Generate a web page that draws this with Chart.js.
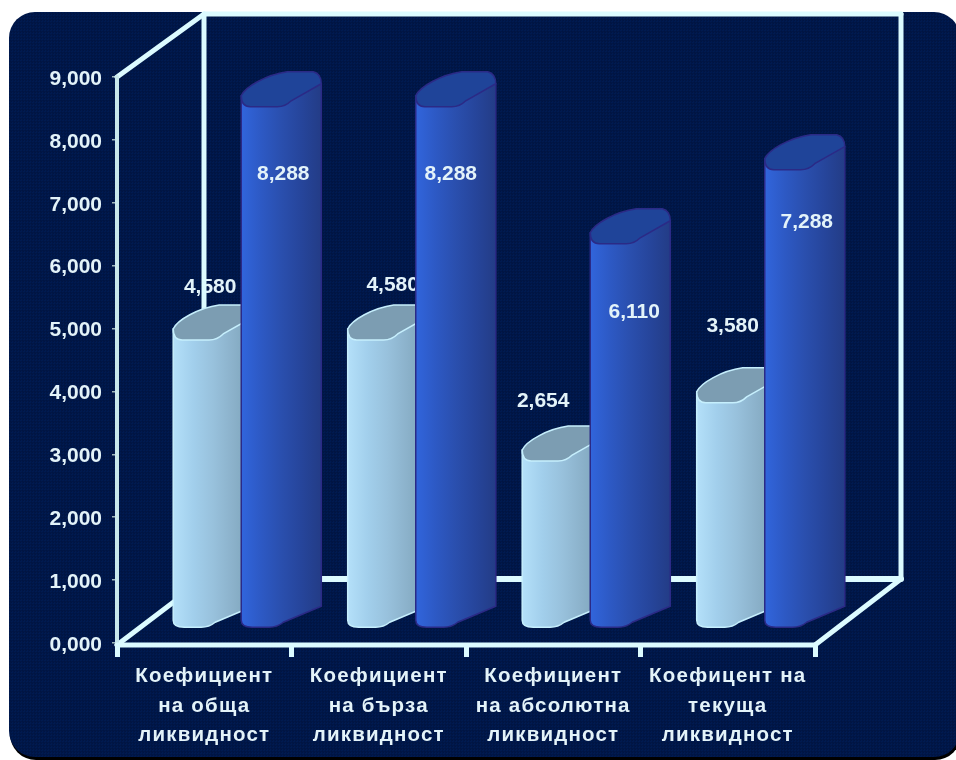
<!DOCTYPE html>
<html>
<head>
<meta charset="utf-8">
<style>
  html, body { margin: 0; padding: 0; background: #fff; overflow: hidden; }
  #wrap { position: relative; width: 956px; height: 760px; overflow: hidden; }
  #panel {
    position: absolute; left: 9px; top: 12px; width: 951px; height: 745px;
    border-radius: 26px;
    background-color: #001a50;
    background-image: radial-gradient(circle at 1.5px 1.5px, #001442 0.9px, transparent 1.3px),
                      radial-gradient(circle at 3px 3px, #001442 0.9px, transparent 1.3px);
    background-size: 3px 3px;
    box-shadow: 1px 3px 0 #000;
  }
  canvas { position: absolute; left: 0; top: 0; }
</style>
</head>
<body>
<div id="wrap">
  <div id="panel"></div>
  <canvas id="liquidityChart" width="956" height="760"></canvas>
</div>
<script src="https://cdn.jsdelivr.net/npm/chart.js@4"></script>
<script>
// ----- DATA -----
const categories = [
  ['Коефициент', 'на обща', 'ликвидност'],
  ['Коефициент', 'на бърза', 'ликвидност'],
  ['Коефициент', 'на абсолютна', 'ликвидност'],
  ['Коефицент на', 'текуща', 'ликвидност']
];
const lightValues = [4.58, 4.58, 2.654, 3.58];
const blueValues = [8.288, 8.288, 6.11, 7.288];

// label nudges from the top-left of each bar
const lightLabelNudge = [[37, -55], [45, -57], [21, -62], [36, -79]];
const blueLabelNudge = [[42, 65], [35, 65], [44, 66], [42, 51]];

const LINE = '#dcfbff';
const TEXT = '#e3f3f9';
const fmt = v => v.toFixed(3).replace('.', ',');

// ----- 3D DRAWING -----
const BAR_DX = 37, BAR_DY = -15, BAR_EXTRA = 12;

function bodyGradient(ctx, x0, x1, stops) {
  const g = ctx.createLinearGradient(x0, 0, x1, 0);
  stops.forEach((c, i) => g.addColorStop(i / (stops.length - 1), c));
  return g;
}

function capPath(ctx, L, T) {
  ctx.beginPath();
  ctx.moveTo(L, T - 11);
  ctx.bezierCurveTo(L + 4, T - 20, L + 25, T - 32, L + 46, T - 35);
  ctx.lineTo(L + 72, T - 35);
  ctx.quadraticCurveTo(L + 80, T - 33, L + 80, T - 23);
  ctx.lineTo(L + 50, T - 6);
  ctx.quadraticCurveTo(L + 44, T, L + 36, T);
  ctx.lineTo(L + 9, T);
  ctx.quadraticCurveTo(L, T, L, T - 11);
  ctx.closePath();
}

function drawCylinder(ctx, el, look) {
  const L = el.x - el.width / 2 + BAR_DX;
  const T = el.y + BAR_DY;
  const B = el.base + BAR_DY;
  const R = L + el.width + BAR_EXTRA;
  ctx.save();
  ctx.beginPath();
  ctx.moveTo(L, T - 11);
  ctx.lineTo(R, T - 23);
  ctx.lineTo(R, B - 21);
  ctx.lineTo(L + 42, B - 5);
  ctx.quadraticCurveTo(L + 36, B, L + 28, B);
  ctx.lineTo(L + 11, B);
  ctx.quadraticCurveTo(L, B, L, B - 7);
  ctx.closePath();
  ctx.fillStyle = bodyGradient(ctx, L, R, look.body);
  ctx.fill();
  ctx.strokeStyle = look.edge;
  ctx.lineWidth = 1.5;
  ctx.stroke();
  capPath(ctx, L, T);
  ctx.fillStyle = look.cap;
  ctx.fill();
  ctx.strokeStyle = look.edge;
  ctx.lineWidth = 1.5;
  ctx.stroke();
  ctx.restore();
}

function drawValue(ctx, text, x, y) {
  ctx.save();
  ctx.font = 'bold 21px "Liberation Sans", Arial, sans-serif';
  ctx.fillStyle = TEXT;
  ctx.textAlign = 'center';
  ctx.textBaseline = 'middle';
  ctx.fillText(text, x, y + 2);
  ctx.restore();
}

function drawFrame(ctx, area) {
  const left = area.left, right = area.right, bottom = area.bottom + 2, top = area.top;
  const backL = left + 87, backR = right + 86, backTop = top - 63, backFloor = bottom - 66;
  const seg = (x0, y0, x1, y1, w) => {
    ctx.lineWidth = w;
    ctx.beginPath();
    ctx.moveTo(x0, y0);
    ctx.lineTo(x1, y1);
    ctx.stroke();
  };
  ctx.save();
  ctx.strokeStyle = LINE;
  ctx.lineCap = 'round';
  seg(backL, backTop, backL, backFloor, 5);
  seg(backR, backTop, backR, backFloor, 5);
  seg(backL, backTop, backR, backTop, 5);
  seg(backL, backFloor, backR, backFloor, 6);
  seg(left, top, backL, backTop, 5);
  seg(left, bottom, backL, backFloor, 5);
  seg(right, bottom, backR, backFloor, 5);
  ctx.strokeStyle = '#c9e8ec';
  seg(left, top, left, bottom, 4);
  ctx.strokeStyle = LINE;
  seg(left, bottom, right, bottom, 5);
  ctx.restore();
}

// wraps a scale's label drawing so one axis can have its own canvas settings
function wrapLabels(chart, scale, setup) {
  if (scale._wrapped) return;
  const orig = scale.drawLabels;
  scale.drawLabels = function (area) {
    chart.ctx.save();
    setup(chart.ctx);
    orig.call(this, area);
    chart.ctx.restore();
  };
  scale._wrapped = true;
}

const liquidity3d = {
  id: 'liquidity3d',
  beforeDraw(chart) {
    wrapLabels(chart, chart.scales.x, ctx => { ctx.letterSpacing = '1.2px'; });
    wrapLabels(chart, chart.scales.y, ctx => { ctx.translate(0, 2); });
  },
  afterDatasetsDraw(chart) {
    const ctx = chart.ctx;
    const lightBars = chart.getDatasetMeta(0).data;
    const blueBars = chart.getDatasetMeta(1).data;

    lightBars.forEach((el, i) => {
      const L = el.x - el.width / 2 + BAR_DX;
      const T = el.y + BAR_DY;
      drawValue(ctx, fmt(lightValues[i]), L + lightLabelNudge[i][0], T + lightLabelNudge[i][1]);
    });

    drawFrame(ctx, chart.chartArea);

    lightBars.forEach(el => drawCylinder(ctx, el, {
      body: ['#b4e0f9', '#a2cfec', '#98c1dc', '#8bb1ca', '#7ba3b8'],
      cap: '#7c9db2',
      edge: '#c6effd'
    }));
    blueBars.forEach(el => drawCylinder(ctx, el, {
      body: ['#3165dc', '#2d59c4', '#2a4fae', '#26459b', '#233c86'],
      cap: '#1f4499',
      edge: '#2b2a86'
    }));

    blueBars.forEach((el, i) => {
      const L = el.x - el.width / 2 + BAR_DX;
      const T = el.y + BAR_DY;
      drawValue(ctx, fmt(blueValues[i]), L + blueLabelNudge[i][0], T + blueLabelNudge[i][1]);
    });
  }
};

// ----- CHART -----
new Chart(document.getElementById('liquidityChart'), {
  type: 'bar',
  data: {
    labels: categories,
    datasets: [
      { data: lightValues, backgroundColor: 'transparent', barPercentage: 1, categoryPercentage: 0.78 },
      { data: blueValues, backgroundColor: 'transparent', barPercentage: 1, categoryPercentage: 0.78 }
    ]
  },
  options: {
    responsive: false,
    animation: false,
    devicePixelRatio: 1,
    layout: { padding: { left: 0, right: 141, top: 77, bottom: 0 } },
    plugins: { legend: { display: false }, tooltip: { enabled: false } },
    scales: {
      x: {
        afterFit: s => { s.height = 117; },
        border: { display: false },
        grid: { drawOnChartArea: false, color: LINE, lineWidth: 5, tickLength: 14 },
        ticks: {
          color: TEXT,
          autoSkip: false,
          maxRotation: 0,
          padding: 4,
          font: { family: '"Liberation Sans", Arial, sans-serif', size: 20.5, weight: 'bold', lineHeight: 1.46 }
        }
      },
      y: {
        min: 0,
        max: 9,
        afterFit: s => { s.width = 117; },
        border: { display: false },
        grid: { drawOnChartArea: false, color: '#9fb7bd', lineWidth: 1.5, tickLength: 5 },
        ticks: {
          stepSize: 1,
          color: TEXT,
          padding: 10,
          callback: v => fmt(v),
          font: { family: '"Liberation Sans", Arial, sans-serif', size: 21, weight: 'bold' }
        }
      }
    }
  },
  plugins: [liquidity3d]
});
</script>
</body>
</html>
